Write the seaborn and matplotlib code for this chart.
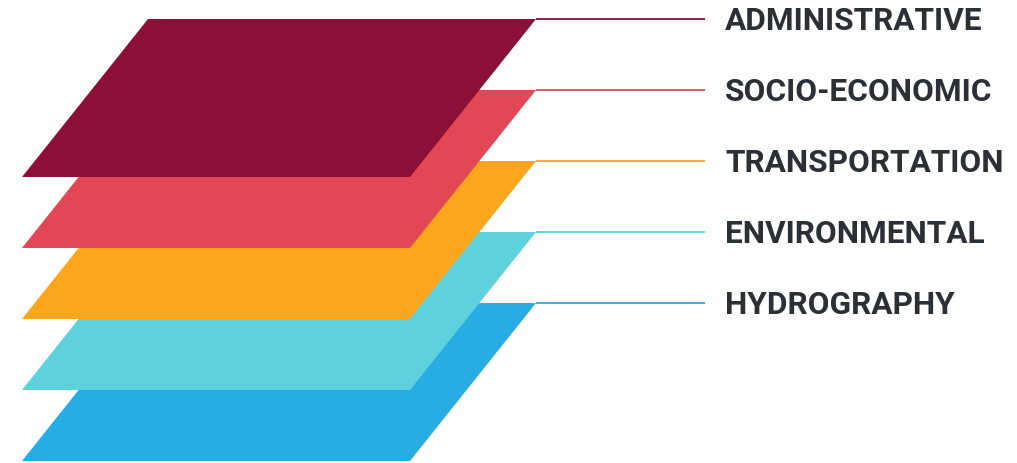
import matplotlib
matplotlib.use("Agg")
import matplotlib.pyplot as plt
import seaborn as sns

# layers from top to bottom
layers = ["ADMINISTRATIVE", "SOCIO-ECONOMIC", "TRANSPORTATION", "ENVIRONMENTAL", "HYDROGRAPHY"]
colors = ["#8B1038", "#E34654", "#FBA61C", "#5DD2DC", "#27ADE3"]

sns.set_theme(style="white")
plt.rcParams['font.family'] = ['Roboto', 'DejaVu Sans']

fig = plt.figure(figsize=(10.17, 4.64), dpi=100)
ax = fig.add_axes([0, 0, 1, 1])
ax.set_xlim(0, 1017)
ax.set_ylim(464, 0)
ax.axis("off")

# shape of one sheet (pixel units)
top_y0, step, depth = 20, 71, 158
x_bl, width, skew = 22, 388, 126
line_end, label_x = 705, 725

# draw from the bottom sheet upward so upper sheets cover lower ones
for i in reversed(range(len(layers))):
    yt = top_y0 + i * step
    yb = yt + depth
    xs = [x_bl + skew, x_bl + skew + width, x_bl + width, x_bl]
    ys = [yt, yt, yb, yb]
    ax.fill(xs, ys, color=colors[i], lw=0)
    ax.plot([x_bl + skew + width, line_end], [yt, yt], color=colors[i], lw=1.3,
            solid_capstyle="butt")
    ax.text(label_x, yt + 1, layers[i], fontsize=22.8, fontweight="bold",
            color="#2B2F36", va="center", ha="left")

fig.savefig("out.png", dpi=100)
